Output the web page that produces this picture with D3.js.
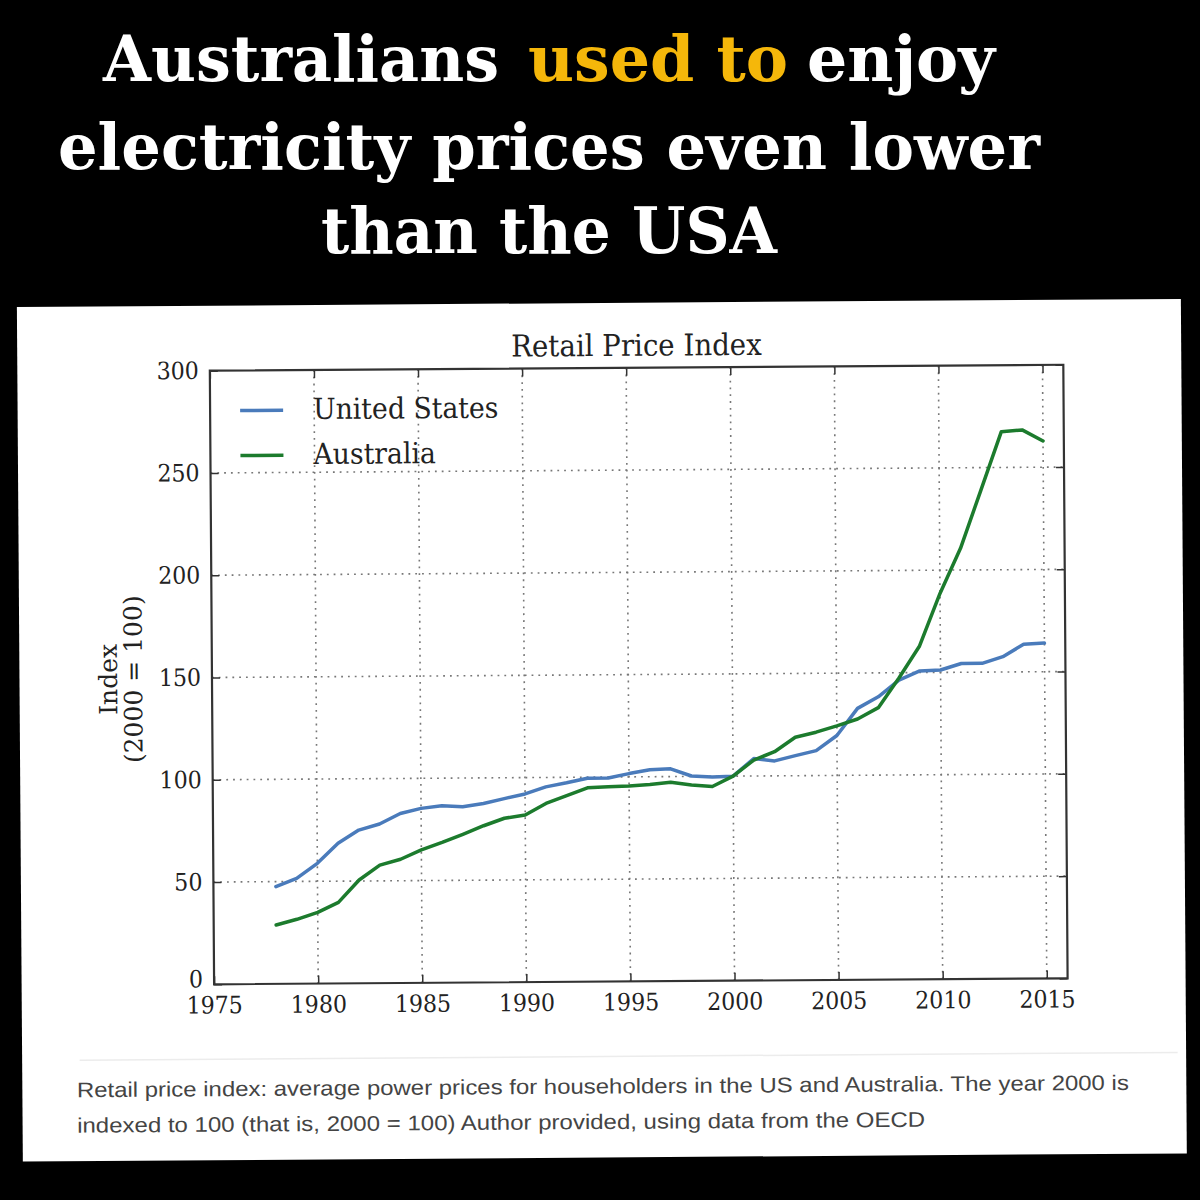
<!DOCTYPE html>
<html><head><meta charset="utf-8">
<script src="https://cdn.jsdelivr.net/npm/d3@7"></script>
<style>html,body{margin:0;padding:0;background:#000;} svg{display:block}</style>
</head><body>
<svg id="c" width="1200" height="1200"></svg>
<script>
// ---------- data ----------
const years = [1978,1979,1980,1981,1982,1983,1984,1985,1986,1987,1988,1989,1990,1991,1992,1993,1994,1995,1996,1997,1998,1999,2000,2001,2002,2003,2004,2005,2006,2007,2008,2009,2010,2011,2012,2013,2014,2015];
const usValues = [47.5,51.5,58.8,68.5,74.9,77.8,82.9,85.3,86.5,86.0,87.5,89.8,92.0,95.4,97.3,99.5,99.5,101.6,103.4,103.8,100.2,99.6,100,108.5,107.3,109.8,112.2,119.5,132.7,138.3,146.4,150.8,151.2,154.3,154.3,157.5,163.5,164.0];
const auValues = [28.8,31.5,34.8,39.6,50.5,57.7,60.5,65.0,68.6,72.5,76.6,80.2,81.7,87.3,91.0,94.8,95.2,95.5,96.2,97.2,95.8,95.0,100,107.8,111.8,118.8,121.2,124.2,127.5,133.0,147.4,163.0,188.6,210.6,239.0,267.5,268.3,262.8];
const seriesNames = ["United States","Australia"];
const seriesColors = ["#4a7bbb","#1c7b2d"];
const xTicks = [1975,1980,1985,1990,1995,2000,2005,2010,2015];
const yTicks = [0,50,100,150,200,250,300];
const chartTitle = "Retail Price Index";
const yLabelLines = ["Index","(2000 = 100)"];
const captionLines = ["Retail price index: average power prices for householders in the US and Australia. The year 2000 is",
                      "indexed to 100 (that is, 2000 = 100) Author provided, using data from the OECD"];

// ---------- helpers ----------
function condense(sel, f){
  sel.each(function(){
    const w = this.getComputedTextLength();
    this.setAttribute("textLength", w*f);
    this.setAttribute("lengthAdjust","spacingAndGlyphs");
  });
}
function fitTo(sel, w){
  sel.attr("textLength", w).attr("lengthAdjust","spacingAndGlyphs");
}

const svg = d3.select("#c");
svg.append("rect").attr("width",1200).attr("height",1200).attr("fill","#000");

// ---------- headline ----------
const hl = svg.append("g").attr("font-family","'DejaVu Serif', serif").attr("font-weight","bold").attr("font-size",64);
const headSegs = [
  {t:"Australians", x:103, y:81, w:396, c:"#ffffff"},
  {t:"used to", x:528, y:81, w:260, c:"#f5b70a"},
  {t:"enjoy", x:807, y:81, w:188, c:"#ffffff"},
  {t:"electricity prices even lower", x:58, y:169, w:982, c:"#ffffff"},
  {t:"than the USA", x:321, y:253, w:456, c:"#ffffff"}
];
headSegs.forEach(s=>{
  hl.append("text").attr("x",s.x).attr("y",s.y).attr("fill",s.c).text(s.t).call(fitTo, s.w);
});

// ---------- panel ----------
const panel = svg.append("g").attr("transform","rotate(-0.4,600,680)");
panel.append("rect").attr("x",19.5).attr("y",303).attr("width",1164).attr("height",854.5).attr("fill","#fff");

const L=212, R=1065.5, T=368, B=981.6;
const x = d3.scaleLinear().domain([1975,2016]).range([L,R]);
const y = d3.scaleLinear().domain([0,300]).range([B,T]);

// grid
const grid = panel.append("g").attr("stroke","#777").attr("stroke-width",1.6).attr("stroke-dasharray","1.8,5");
grid.selectAll("line.v").data(xTicks.filter(d=>d>1975)).join("line")
  .attr("x1",d=>x(d)).attr("x2",d=>x(d)).attr("y1",T).attr("y2",B);
grid.selectAll("line.h").data(yTicks.filter(d=>d>0&&d<300)).join("line")
  .attr("y1",d=>y(d)).attr("y2",d=>y(d)).attr("x1",L).attr("x2",R);

// lines
const line = d3.line().x((d,i)=>x(years[i])).y(d=>y(d));
[usValues, auValues].forEach((vals,k)=>{
  panel.append("path").datum(vals).attr("d",line).attr("fill","none")
    .attr("stroke",seriesColors[k]).attr("stroke-width",3.5).attr("stroke-linejoin","round").attr("stroke-linecap","round");
});

// axes
const font = "'DejaVu Serif', serif";
const axB = panel.append("g").attr("transform",`translate(0,${B})`)
  .call(d3.axisBottom(x).tickValues(xTicks).tickFormat(d3.format("d")).tickSizeInner(-8).tickSizeOuter(0).tickPadding(12));
const axT = panel.append("g").attr("transform",`translate(0,${T})`)
  .call(d3.axisTop(x).tickValues(xTicks).tickFormat("").tickSizeInner(-8).tickSizeOuter(0));
const axL = panel.append("g").attr("transform",`translate(${L},0)`)
  .call(d3.axisLeft(y).tickValues(yTicks).tickSizeInner(-8).tickSizeOuter(0).tickPadding(11));
const axR = panel.append("g").attr("transform",`translate(${R},0)`)
  .call(d3.axisRight(y).tickValues(yTicks).tickFormat("").tickSizeInner(-8).tickSizeOuter(0));
[axB,axT,axL,axR].forEach(a=>{
  a.select(".domain").remove();
  a.selectAll(".tick line").attr("stroke","#333").attr("stroke-width",1.5);
  a.selectAll(".tick text").attr("font-family",font).attr("font-size",24).attr("fill","#222");
});
axL.selectAll(".tick text").filter(d=>d===0).attr("dy","0.1em");
axB.selectAll(".tick text").call(condense,0.92);
axL.selectAll(".tick text").call(condense,0.92);

// frame
panel.append("rect").attr("x",L).attr("y",T).attr("width",R-L).attr("height",B-T)
  .attr("fill","none").attr("stroke","#333").attr("stroke-width",2.2);

// title
panel.append("text").attr("x",(L+R)/2).attr("y",356).attr("text-anchor","middle")
  .attr("font-family",font).attr("font-size",30).attr("fill","#222").text(chartTitle).call(condense,0.92);

// y label
const yl = panel.append("text").attr("transform","translate(117,676) rotate(-90)").attr("text-anchor","middle")
  .attr("font-family",font).attr("font-size",25).attr("fill","#222");
yl.append("tspan").attr("x",0).attr("y",0).text(yLabelLines[0]);
yl.append("tspan").attr("x",0).attr("y",25).text(yLabelLines[1]);

// legend
const lg = panel.append("g");
seriesNames.forEach((n,i)=>{
  const ly = 408 + i*45;
  lg.append("line").attr("x1",242).attr("x2",285).attr("y1",ly).attr("y2",ly)
    .attr("stroke",seriesColors[i]).attr("stroke-width",3.5);
  lg.append("text").attr("x",315).attr("y",ly+9).attr("font-family",font).attr("font-size",29)
    .attr("fill","#222").text(n).call(condense,0.92);
});

// separator + caption
panel.append("line").attr("x1",77).attr("x2",1175).attr("y1",1056.5).attr("y2",1056.5)
  .attr("stroke","#ececec").attr("stroke-width",1.5);
const capW = [1052, 848];
captionLines.forEach((c,i)=>{
  panel.append("text").attr("x",74).attr("y",1093.5 + i*35.5)
    .attr("font-family","'Liberation Sans', Arial, sans-serif").attr("font-size",21).attr("fill","#444")
    .text(c).call(fitTo, capW[i]);
});
</script>
</body></html>
